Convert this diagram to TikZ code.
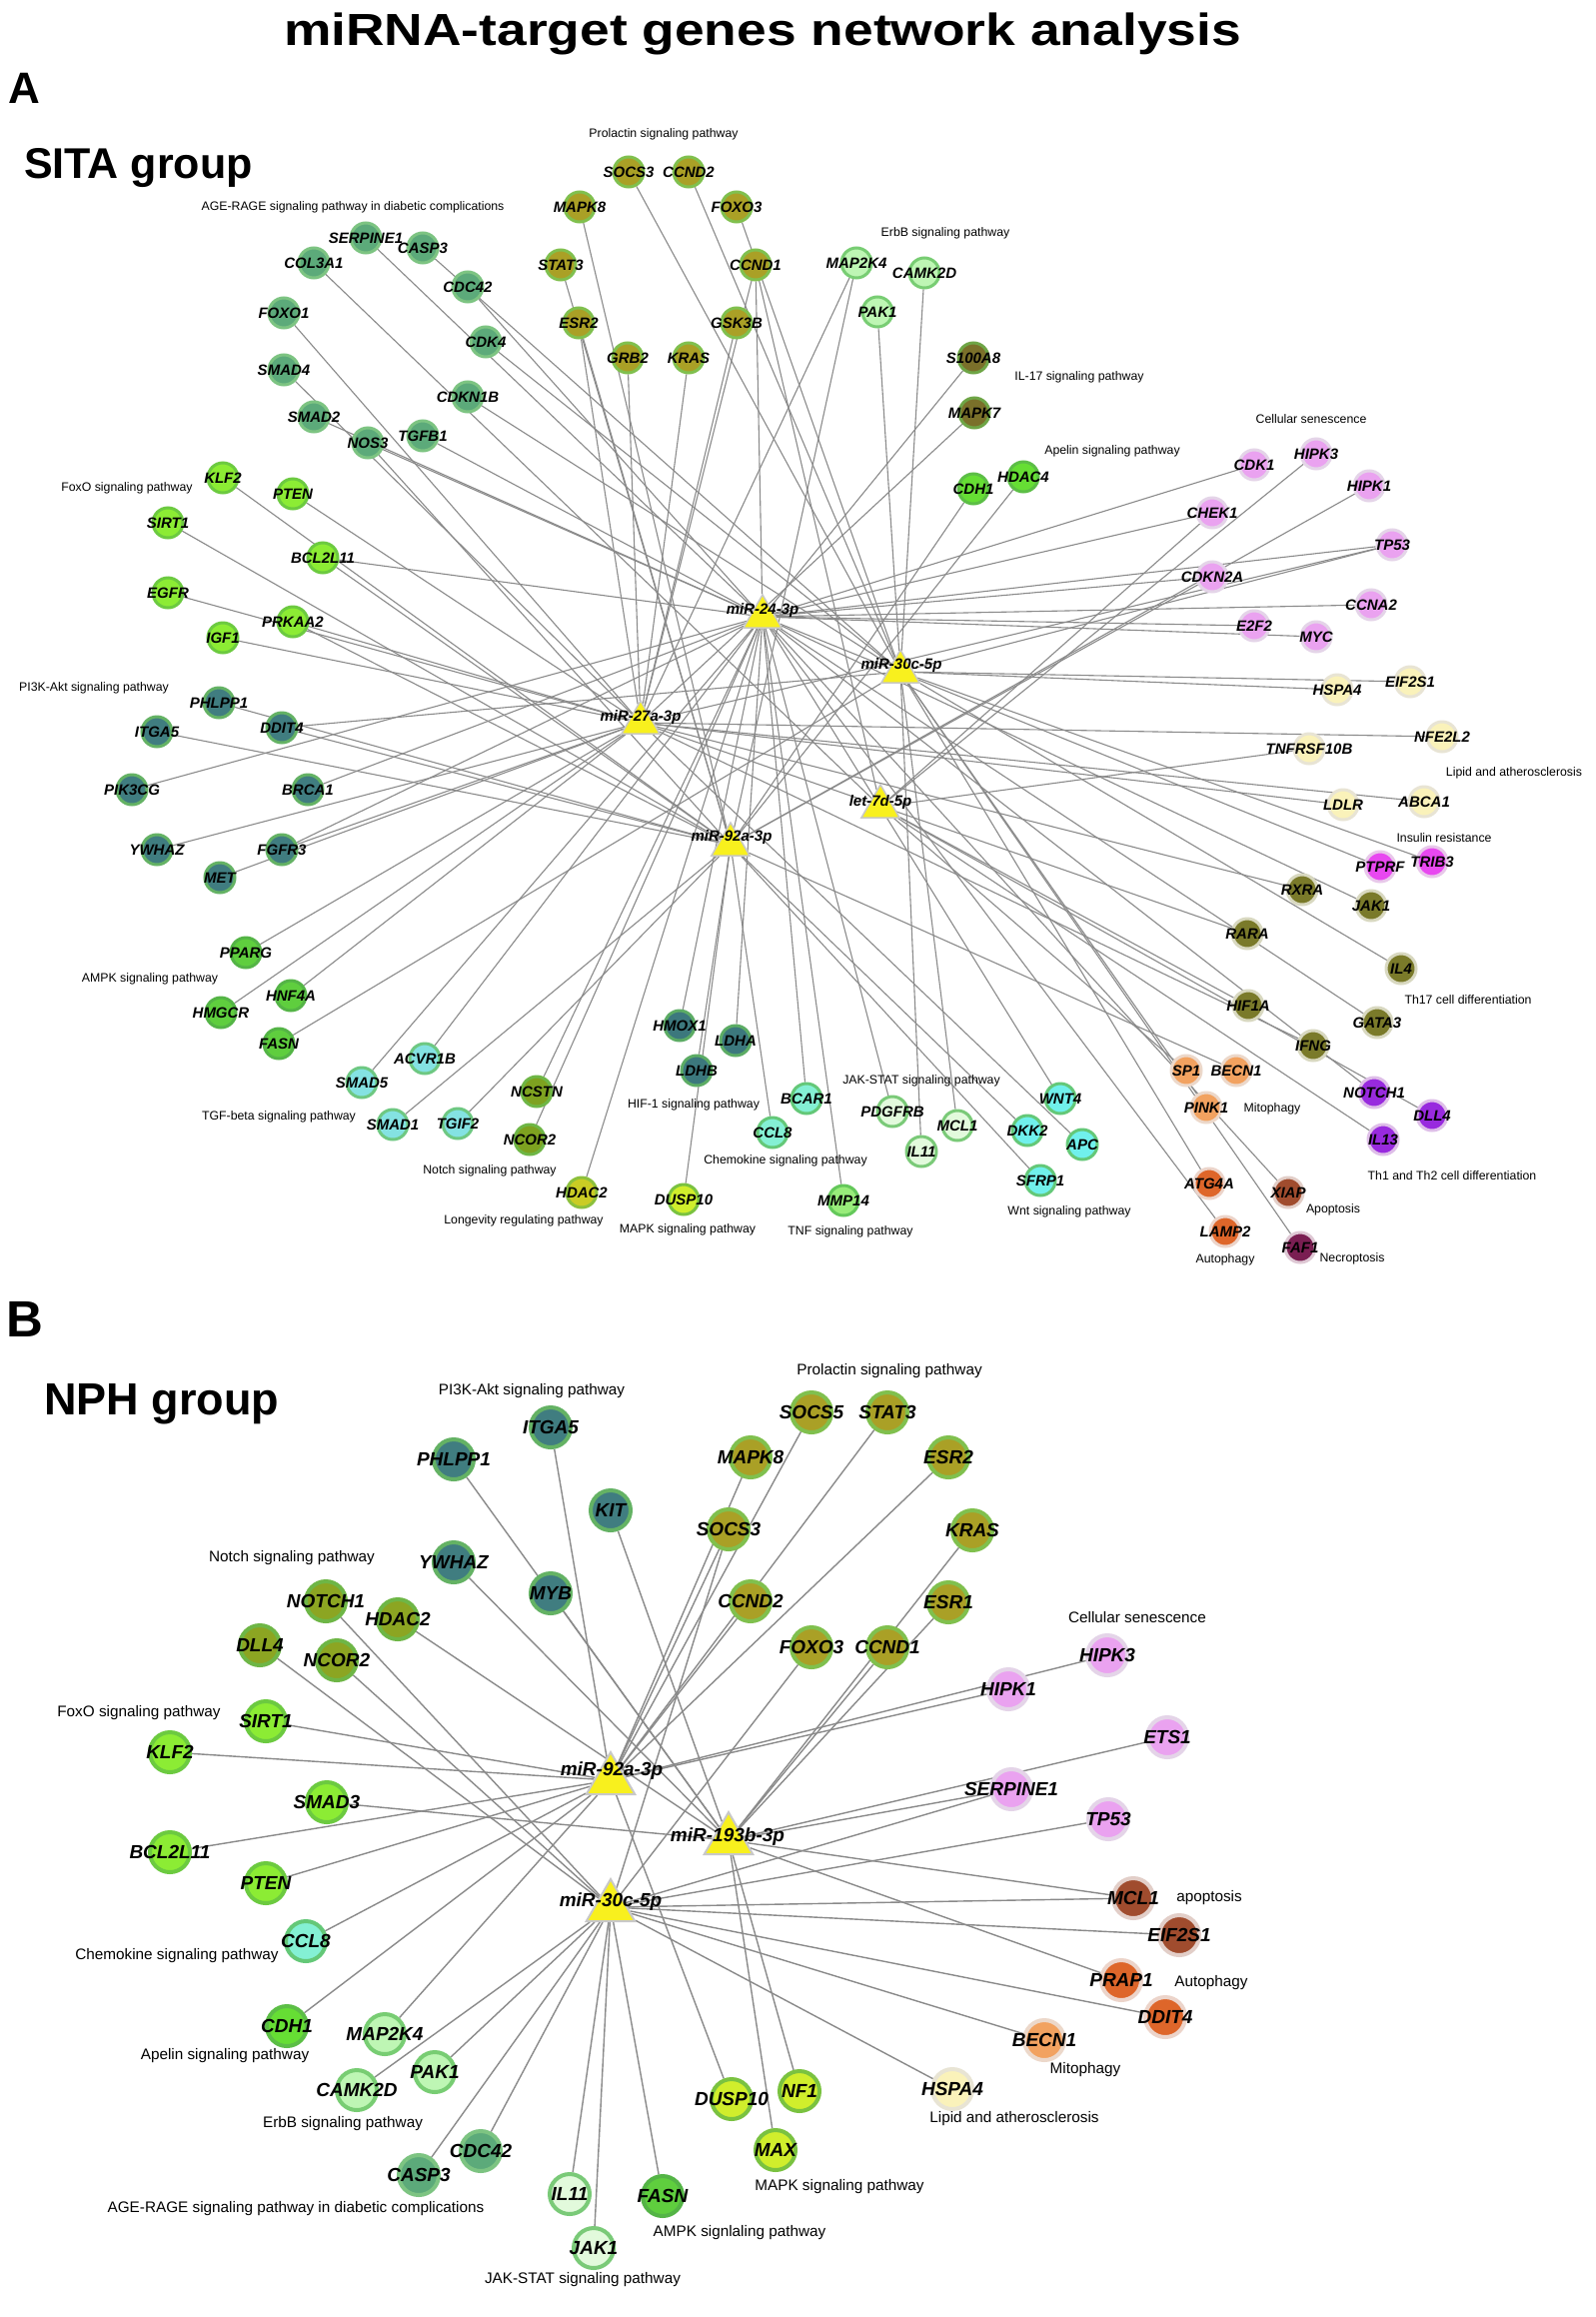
\documentclass[tikz,border=0pt]{standalone}
\usepackage{graphicx}
\usepackage{fontspec}
\setmainfont{Liberation Sans}
\usetikzlibrary{shapes.geometric}
\pgfdeclarelayer{background}
\pgfdeclarelayer{fg}
\pgfsetlayers{background,main,fg}

\definecolor{cAge}{RGB}{92,170,122}\definecolor{rAge}{RGB}{125,196,130}
\definecolor{cProl}{RGB}{170,160,38}\definecolor{rProl}{RGB}{128,192,78}
\definecolor{cErbB}{RGB}{190,246,180}\definecolor{rErbB}{RGB}{120,205,115}
\definecolor{cIL}{RGB}{122,112,42}\definecolor{rIL}{RGB}{110,165,70}
\definecolor{cApel}{RGB}{102,222,52}\definecolor{rApel}{RGB}{92,190,70}
\definecolor{cFoxo}{RGB}{140,236,52}\definecolor{rFoxo}{RGB}{108,202,64}
\definecolor{cPI}{RGB}{64,125,128}\definecolor{rPI}{RGB}{100,178,100}
\definecolor{cAmpk}{RGB}{95,206,62}\definecolor{rAmpk}{RGB}{84,180,70}
\definecolor{cTgf}{RGB}{132,226,226}\definecolor{rTgf}{RGB}{110,200,130}
\definecolor{cNotch}{RGB}{126,162,32}\definecolor{rNotch}{RGB}{110,182,70}
\definecolor{cLong}{RGB}{202,204,36}\definecolor{rLong}{RGB}{140,192,60}
\definecolor{cHif}{RGB}{60,120,125}\definecolor{rHif}{RGB}{92,172,100}
\definecolor{cMapk}{RGB}{208,238,44}\definecolor{rMapk}{RGB}{122,194,64}
\definecolor{cChemo}{RGB}{132,240,212}\definecolor{rChemo}{RGB}{100,200,120}
\definecolor{cTnf}{RGB}{152,236,122}\definecolor{rTnf}{RGB}{100,200,90}
\definecolor{cJak}{RGB}{226,250,220}\definecolor{rJak}{RGB}{122,202,120}
\definecolor{cWnt}{RGB}{112,240,236}\definecolor{rWnt}{RGB}{100,200,120}
\definecolor{cSen}{RGB}{234,162,240}\definecolor{rSen}{RGB}{228,212,232}
\definecolor{cLip}{RGB}{250,242,186}\definecolor{rLip}{RGB}{232,228,212}
\definecolor{cIns}{RGB}{232,72,240}\definecolor{rIns}{RGB}{232,200,234}
\definecolor{cTh}{RGB}{122,122,42}\definecolor{rTh}{RGB}{216,216,192}
\definecolor{cThb}{RGB}{152,42,222}\definecolor{rThb}{RGB}{222,190,232}
\definecolor{cMito}{RGB}{242,162,96}\definecolor{rMito}{RGB}{236,216,202}
\definecolor{cAuto}{RGB}{222,102,42}\definecolor{rAuto}{RGB}{236,212,202}
\definecolor{cApop}{RGB}{160,76,46}\definecolor{rApop}{RGB}{226,206,200}
\definecolor{cNec}{RGB}{122,30,82}\definecolor{rNec}{RGB}{222,200,212}
\definecolor{cNotchB}{RGB}{140,165,34}
\definecolor{miry}{RGB}{248,240,30}\definecolor{mirb}{RGB}{200,200,200}
\definecolor{edgec}{RGB}{138,138,138}

\tikzset{
  ga/.style={circle, minimum size=30pt, inner sep=0pt, line width=3pt},
  gb/.style={circle, minimum size=40pt, inner sep=0pt, line width=4pt},
  la/.style={font=\fontsize{15}{15}\selectfont\bfseries\itshape, inner sep=0pt},
  lb/.style={font=\fontsize{19}{19}\selectfont\bfseries\itshape, inner sep=0pt},
  pa/.style={font=\fontsize{12.3}{13}\selectfont, inner sep=0pt},
  pb/.style={font=\fontsize{15.3}{16}\selectfont, inner sep=0pt},
  triA/.style={regular polygon, regular polygon sides=3, minimum size=44pt, inner sep=0pt, fill=miry, draw=mirb, line width=1.5pt},
  triB/.style={regular polygon, regular polygon sides=3, minimum size=56pt, inner sep=0pt, fill=miry, draw=mirb, line width=2pt},
  ea/.style={draw=edgec, line width=1.1pt},
  eb/.style={draw=edgec, line width=1.4pt},
  head/.style={inner sep=0pt, anchor=base west},
  sAge/.style={fill=cAge,draw=rAge}, sProl/.style={fill=cProl,draw=rProl},
  sErbB/.style={fill=cErbB,draw=rErbB}, sIL/.style={fill=cIL,draw=rIL},
  sApel/.style={fill=cApel,draw=rApel}, sFoxo/.style={fill=cFoxo,draw=rFoxo},
  sPI/.style={fill=cPI,draw=rPI}, sAmpk/.style={fill=cAmpk,draw=rAmpk},
  sTgf/.style={fill=cTgf,draw=rTgf}, sNotch/.style={fill=cNotch,draw=rNotch},
  sLong/.style={fill=cLong,draw=rLong}, sHif/.style={fill=cHif,draw=rHif},
  sMapk/.style={fill=cMapk,draw=rMapk}, sChemo/.style={fill=cChemo,draw=rChemo},
  sTnf/.style={fill=cTnf,draw=rTnf}, sJak/.style={fill=cJak,draw=rJak},
  sWnt/.style={fill=cWnt,draw=rWnt}, sSen/.style={fill=cSen,draw=rSen},
  sLip/.style={fill=cLip,draw=rLip}, sIns/.style={fill=cIns,draw=rIns},
  sTh/.style={fill=cTh,draw=rTh}, sThb/.style={fill=cThb,draw=rThb},
  sMito/.style={fill=cMito,draw=rMito}, sAuto/.style={fill=cAuto,draw=rAuto},
  sApop/.style={fill=cApop,draw=rApop}, sNec/.style={fill=cNec,draw=rNec},
  sNotchB/.style={fill=cNotchB,draw=rNotch}
}

\newcommand{\geneA}[4]{%
  \node[ga,#4] (a#1) at (#2,#3) {};%
  \begin{pgfonlayer}{fg}\node[la] (ta#1) at (a#1) {#1};\end{pgfonlayer}}
\newcommand{\geneB}[4]{%
  \node[gb,#4] (b#1) at (#2,#3) {};%
  \begin{pgfonlayer}{fg}\node[lb] (tb#1) at (b#1) {#1};\end{pgfonlayer}}

\begin{document}
\begin{tikzpicture}[x=1pt,y=-1pt]
\useasboundingbox (0,0) rectangle (1597,2318);
\begin{pgfonlayer}{background}
\fill[white] (0,0) rectangle (1597,2318);
\end{pgfonlayer}

% ---------- headings ----------
\node[inner sep=0pt, anchor=base, font=\fontsize{45}{45}\selectfont\bfseries] (title) at (763,45) {\scalebox{1.186}[1]{miRNA-target genes network analysis}};
\node[head, font=\fontsize{44}{44}\selectfont\bfseries] (hA) at (8,103) {A};
\node[head, font=\fontsize{43}{43}\selectfont\bfseries] (hSITA) at (24,178) {SITA group};
\node[head, font=\fontsize{51}{51}\selectfont\bfseries] (hB) at (6,1337) {B};
\node[head, font=\fontsize{45}{45}\selectfont\bfseries] (hNPH) at (44,1415) {NPH group};

% ---------- panel A pathway labels ----------
\node[pa] (pa1) at (353,207) {AGE-RAGE signaling pathway in diabetic complications};
\node[pa] (pa2) at (664,134) {Prolactin signaling pathway};
\node[pa] (pa3) at (946,233) {ErbB signaling pathway};
\node[pa] (pa4) at (1080,377) {IL-17 signaling pathway};
\node[pa] (pa5) at (1312,419) {Cellular senescence};
\node[pa] (pa6) at (1113,451) {Apelin signaling pathway};
\node[pa] (pa7) at (127,488) {FoxO signaling pathway};
\node[pa] (pa8) at (94,688) {PI3K-Akt signaling pathway};
\node[pa] (pa9) at (1515,773) {Lipid and atherosclerosis};
\node[pa] (pa10) at (1445,838) {Insulin resistance};
\node[pa] (pa11) at (1469,1000) {Th17 cell differentiation};
\node[pa] (pa12) at (1273,1109) {Mitophagy};
\node[pa] (pa13) at (1453,1176) {Th1 and Th2 cell differentiation};
\node[pa] (pa14) at (1334,1210) {Apoptosis};
\node[pa] (pa15) at (1226,1260) {Autophagy};
\node[pa] (pa16) at (1353,1259) {Necroptosis};
\node[pa] (pa17) at (150,979) {AMPK signaling pathway};
\node[pa] (pa18) at (279,1117) {TGF-beta signaling pathway};
\node[pa] (pa19) at (490,1171) {Notch signaling pathway};
\node[pa] (pa20) at (524,1221) {Longevity regulating pathway};
\node[pa] (pa21) at (694,1105) {HIF-1 signaling pathway};
\node[pa] (pa22) at (688,1230) {MAPK signaling pathway};
\node[pa] (pa23) at (786,1161) {Chemokine signaling pathway};
\node[pa] (pa24) at (851,1232) {TNF signaling pathway};
\node[pa] (pa25) at (922,1081) {JAK-STAT signaling pathway};
\node[pa] (pa26) at (1070,1212) {Wnt signaling pathway};

% ---------- panel A miRNAs ----------
\node[triA] (am24) at (763,617) {};
\node[triA] (am30) at (901,672) {};
\node[triA] (am27) at (641,723) {};
\node[triA] (alet) at (881,807) {};
\node[triA] (am92) at (731,845) {};
\begin{pgfonlayer}{fg}
\node[la] (tam24) at (763,611) {miR-24-3p};
\node[la] (tam30) at (902,666) {miR-30c-5p};
\node[la] (tam27) at (641,718) {miR-27a-3p};
\node[la] (talet) at (881,803) {let-7d-5p};
\node[la] (tam92) at (732,838) {miR-92a-3p};
\end{pgfonlayer}

% ---------- panel A genes ----------
\geneA{SERPINE1}{366}{238}{sAge}
\geneA{CASP3}{423}{248}{sAge}
\geneA{COL3A1}{314}{263}{sAge}
\geneA{CDC42}{468}{287}{sAge}
\geneA{FOXO1}{284}{313}{sAge}
\geneA{CDK4}{486}{342}{sAge}
\geneA{SMAD4}{284}{370}{sAge}
\geneA{CDKN1B}{468}{397}{sAge}
\geneA{SMAD2}{314}{417}{sAge}
\geneA{TGFB1}{423}{436}{sAge}
\geneA{NOS3}{368}{443}{sAge}
\geneA{SOCS3}{629}{172}{sProl}
\geneA{CCND2}{689}{172}{sProl}
\geneA{MAPK8}{580}{207}{sProl}
\geneA{FOXO3}{737}{207}{sProl}
\geneA{STAT3}{561}{265}{sProl}
\geneA{CCND1}{756}{265}{sProl}
\geneA{ESR2}{579}{323}{sProl}
\geneA{GSK3B}{737}{323}{sProl}
\geneA{GRB2}{628}{358}{sProl}
\geneA{KRAS}{689}{358}{sProl}
\geneA{MAP2K4}{857}{263}{sErbB}
\geneA{CAMK2D}{925}{273}{sErbB}
\geneA{PAK1}{878}{312}{sErbB}
\geneA{S100A8}{974}{358}{sIL}
\geneA{MAPK7}{975}{413}{sIL}
\geneA{CDH1}{974}{489}{sApel}
\geneA{HDAC4}{1024}{477}{sApel}
\geneA{KLF2}{223}{478}{sFoxo}
\geneA{PTEN}{293}{494}{sFoxo}
\geneA{SIRT1}{168}{523}{sFoxo}
\geneA{BCL2L11}{323}{558}{sFoxo}
\geneA{EGFR}{168}{593}{sFoxo}
\geneA{PRKAA2}{293}{622}{sFoxo}
\geneA{IGF1}{223}{638}{sFoxo}
\geneA{PHLPP1}{219}{703}{sPI}
\geneA{ITGA5}{157}{732}{sPI}
\geneA{DDIT4}{282}{728}{sPI}
\geneA{PIK3CG}{132}{790}{sPI}
\geneA{BRCA1}{308}{790}{sPI}
\geneA{YWHAZ}{157}{850}{sPI}
\geneA{FGFR3}{282}{850}{sPI}
\geneA{MET}{220}{878}{sPI}
\geneA{PPARG}{246}{953}{sAmpk}
\geneA{HNF4A}{291}{996}{sAmpk}
\geneA{HMGCR}{221}{1013}{sAmpk}
\geneA{FASN}{279}{1044}{sAmpk}
\geneA{ACVR1B}{425}{1059}{sTgf}
\geneA{SMAD5}{362}{1083}{sTgf}
\geneA{SMAD1}{393}{1125}{sTgf}
\geneA{TGIF2}{458}{1124}{sTgf}
\geneA{NCSTN}{537}{1092}{sNotch}
\geneA{NCOR2}{530}{1140}{sNotch}
\geneA{HDAC2}{582}{1193}{sLong}
\geneA{HMOX1}{680}{1026}{sHif}
\geneA{LDHA}{736}{1041}{sHif}
\geneA{LDHB}{697}{1071}{sHif}
\geneA{DUSP10}{684}{1200}{sMapk}
\geneA{BCAR1}{807}{1099}{sChemo}
\geneA{CCL8}{773}{1133}{sChemo}
\geneA{MMP14}{844}{1201}{sTnf}
\geneA{PDGFRB}{893}{1112}{sJak}
\geneA{IL11}{922}{1152}{sJak}
\geneA{MCL1}{958}{1126}{sJak}
\geneA{WNT4}{1061}{1099}{sWnt}
\geneA{DKK2}{1028}{1131}{sWnt}
\geneA{SFRP1}{1041}{1181}{sWnt}
\geneA{APC}{1083}{1145}{sWnt}
\geneA{CDK1}{1255}{465}{sSen}
\geneA{HIPK3}{1317}{454}{sSen}
\geneA{HIPK1}{1370}{486}{sSen}
\geneA{CHEK1}{1213}{513}{sSen}
\geneA{TP53}{1393}{545}{sSen}
\geneA{CDKN2A}{1213}{577}{sSen}
\geneA{CCNA2}{1372}{605}{sSen}
\geneA{E2F2}{1255}{626}{sSen}
\geneA{MYC}{1317}{637}{sSen}
\geneA{HSPA4}{1338}{690}{sLip}
\geneA{EIF2S1}{1411}{682}{sLip}
\geneA{NFE2L2}{1443}{737}{sLip}
\geneA{TNFRSF10B}{1310}{749}{sLip}
\geneA{LDLR}{1344}{805}{sLip}
\geneA{ABCA1}{1425}{802}{sLip}
\geneA{PTPRF}{1381}{867}{sIns}
\geneA{TRIB3}{1433}{862}{sIns}
\geneA{RXRA}{1303}{890}{sTh}
\geneA{JAK1}{1372}{906}{sTh}
\geneA{RARA}{1248}{934}{sTh}
\geneA{IL4}{1402}{969}{sTh}
\geneA{HIF1A}{1249}{1006}{sTh}
\geneA{GATA3}{1378}{1023}{sTh}
\geneA{IFNG}{1314}{1046}{sTh}
\geneA{NOTCH1}{1375}{1093}{sThb}
\geneA{DLL4}{1433}{1116}{sThb}
\geneA{IL13}{1384}{1140}{sThb}
\geneA{SP1}{1187}{1071}{sMito}
\geneA{BECN1}{1237}{1071}{sMito}
\geneA{PINK1}{1207}{1108}{sMito}
\geneA{ATG4A}{1210}{1184}{sAuto}
\geneA{LAMP2}{1226}{1232}{sAuto}
\geneA{XIAP}{1289}{1193}{sApop}
\geneA{FAF1}{1301}{1248}{sNec}

% ---------- panel B pathway labels ----------
\node[pb] (pb1) at (532,1392) {PI3K-Akt signaling pathway};
\node[pb] (pb2) at (890,1372) {Prolactin signaling pathway};
\node[pb] (pb3) at (292,1559) {Notch signaling pathway};
\node[pb] (pb4) at (1138,1618) {Cellular senescence};
\node[pb] (pb5) at (139,1714) {FoxO signaling pathway};
\node[pb] (pb6) at (177,1957) {Chemokine signaling pathway};
\node[pb] (pb7) at (225,2057) {Apelin signaling pathway};
\node[pb] (pb8) at (343,2125) {ErbB signaling pathway};
\node[pb] (pb9) at (296,2210) {AGE-RAGE signaling pathway in diabetic complications};
\node[pb] (pb10) at (583,2281) {JAK-STAT signaling pathway};
\node[pb] (pb11) at (740,2234) {AMPK signlaling pathway};
\node[pb] (pb12) at (840,2188) {MAPK signaling pathway};
\node[pb] (pb13) at (1015,2120) {Lipid and atherosclerosis};
\node[pb] (pb14) at (1086,2071) {Mitophagy};
\node[pb] (pb15) at (1212,1984) {Autophagy};
\node[pb] (pb16) at (1210,1899) {apoptosis};

% ---------- panel B miRNAs ----------
\node[triB] (bm92) at (611,1781) {};
\node[triB] (bm193) at (729,1841) {};
\node[triB] (bm30) at (611,1908) {};
\begin{pgfonlayer}{fg}
\node[lb] (tbm92) at (612,1772) {miR-92a-3p};
\node[lb] (tbm193) at (728,1838) {miR-193b-3p};
\node[lb] (tbm30) at (611,1903) {miR-30c-5p};
\end{pgfonlayer}

% ---------- panel B genes ----------
\geneB{ITGA5}{551}{1428}{sPI}
\geneB{PHLPP1}{454}{1460}{sPI}
\geneB{KIT}{611}{1511}{sPI}
\geneB{YWHAZ}{454}{1563}{sPI}
\geneB{MYB}{551}{1594}{sPI}
\geneB{SOCS5}{812}{1413}{sProl}
\geneB{STAT3}{888}{1413}{sProl}
\geneB{MAPK8}{751}{1458}{sProl}
\geneB{ESR2}{949}{1458}{sProl}
\geneB{SOCS3}{729}{1530}{sProl}
\geneB{KRAS}{973}{1531}{sProl}
\geneB{CCND2}{751}{1602}{sProl}
\geneB{ESR1}{949}{1603}{sProl}
\geneB{FOXO3}{812}{1648}{sProl}
\geneB{CCND1}{888}{1648}{sProl}
\geneB{NOTCH1}{326}{1602}{sNotchB}
\geneB{HDAC2}{398}{1620}{sNotchB}
\geneB{DLL4}{260}{1646}{sNotchB}
\geneB{NCOR2}{337}{1661}{sNotchB}
\geneB{SIRT1}{266}{1722}{sFoxo}
\geneB{KLF2}{170}{1753}{sFoxo}
\geneB{SMAD3}{327}{1803}{sFoxo}
\geneB{BCL2L11}{170}{1853}{sFoxo}
\geneB{PTEN}{266}{1884}{sFoxo}
\geneB{CCL8}{306}{1942}{sChemo}
\geneB{CDH1}{287}{2027}{sApel}
\geneB{MAP2K4}{385}{2035}{sErbB}
\geneB{PAK1}{435}{2073}{sErbB}
\geneB{CAMK2D}{357}{2091}{sErbB}
\geneB{CDC42}{481}{2152}{sAge}
\geneB{CASP3}{419}{2176}{sAge}
\geneB{IL11}{570}{2195}{sJak}
\geneB{FASN}{663}{2197}{sAmpk}
\geneB{JAK1}{594}{2249}{sJak}
\geneB{DUSP10}{732}{2100}{sMapk}
\geneB{NF1}{800}{2092}{sMapk}
\geneB{MAX}{776}{2151}{sMapk}
\geneB{HSPA4}{953}{2090}{sLip}
\geneB{BECN1}{1045}{2041}{sMito}
\geneB{DDIT4}{1166}{2018}{sAuto}
\geneB{PRAP1}{1122}{1981}{sAuto}
\geneB{EIF2S1}{1180}{1936}{sApop}
\geneB{MCL1}{1134}{1899}{sApop}
\geneB{TP53}{1109}{1820}{sSen}
\geneB{SERPINE1}{1012}{1790}{sSen}
\geneB{ETS1}{1168}{1738}{sSen}
\geneB{HIPK1}{1009}{1690}{sSen}
\geneB{HIPK3}{1108}{1656}{sSen}

% ---------- connectors ----------
\begin{pgfonlayer}{background}
\foreach \g/\m in {SERPINE1/m24, CASP3/m30, COL3A1/let, CDC42/m24, FOXO1/m27, CDK4/m30, SMAD4/m27, CDKN1B/m30, SMAD2/m24, TGFB1/m24, NOS3/m24, NOS3/m92,
  SOCS3/m30, CCND2/m30, MAPK8/m92, FOXO3/m30, STAT3/m92, CCND1/m24, CCND1/m27, CCND1/let, ESR2/m92, ESR2/m27, GSK3B/m27, GRB2/m27, KRAS/m27,
  MAP2K4/m27, MAP2K4/m92, CAMK2D/m30, PAK1/m30, S100A8/m24, MAPK7/m27, CDH1/m92, HDAC4/m92,
  KLF2/m92, PTEN/m27, SIRT1/m92, BCL2L11/m24, BCL2L11/m92, EGFR/m27, PRKAA2/m27, PRKAA2/m92, IGF1/m27,
  PHLPP1/m92, ITGA5/m92, DDIT4/m30, DDIT4/m92, PIK3CG/m24, BRCA1/m24, YWHAZ/m27, FGFR3/m24, FGFR3/m27, MET/m27,
  PPARG/m27, HNF4A/m27, HMGCR/m27, FASN/m30,
  ACVR1B/m24, SMAD5/m24, SMAD1/m92, TGIF2/m92, NCSTN/m24, NCOR2/m24, HDAC2/m24,
  HMOX1/m24, LDHA/m24, LDHB/m92, DUSP10/m92, BCAR1/m24, CCL8/m92, MMP14/m24, PDGFRB/m24, IL11/m30, MCL1/m30,
  WNT4/m24, DKK2/m92, SFRP1/m92, APC/m27,
  CDK1/m24, HIPK3/let, HIPK1/m92, CHEK1/m24, CHEK1/let, TP53/m24, TP53/m30, TP53/m27, CDKN2A/m24, CDKN2A/m92, CCNA2/m24, E2F2/m24, MYC/m24,
  HSPA4/m30, EIF2S1/m30, NFE2L2/m27, TNFRSF10B/let, LDLR/m27, ABCA1/m27,
  PTPRF/m24, TRIB3/m30, RXRA/m27, JAK1/m24, RARA/m27, IL4/m30, HIF1A/let, GATA3/m24, IFNG/m27,
  NOTCH1/m24, DLL4/let, IL13/let, SP1/let, BECN1/m92, PINK1/m30, ATG4A/m30, LAMP2/m24, XIAP/m24, FAF1/m30}
  \draw[ea] (a\g) -- (a\m);
\foreach \g/\m in {PHLPP1/m193, ITGA5/m92, KIT/m193, YWHAZ/m193, MYB/m193, NOTCH1/m30, HDAC2/m193, DLL4/m30, NCOR2/m30,
  SIRT1/m92, KLF2/m92, SOCS3/m92, SOCS3/m30, MAPK8/m92, CCND2/m92, SOCS5/m92, STAT3/m92, ESR2/m92, KRAS/m193, ESR1/m193,
  CCND1/m193, FOXO3/m30, HIPK3/m92, HIPK1/m92, ETS1/m193, SERPINE1/m193, SERPINE1/m30, TP53/m30, MCL1/m193, MCL1/m30,
  EIF2S1/m30, PRAP1/m193, DDIT4/m30, BECN1/m30, HSPA4/m30, NF1/m193, MAX/m193, DUSP10/m92, FASN/m30, JAK1/m30, IL11/m30,
  CDC42/m30, CASP3/m30, PAK1/m30, CAMK2D/m30, MAP2K4/m92, CDH1/m92, CCL8/m92, PTEN/m92, BCL2L11/m92, SMAD3/m193}
  \draw[eb] (b\g) -- (b\m);
\end{pgfonlayer}
\end{tikzpicture}
\end{document}
